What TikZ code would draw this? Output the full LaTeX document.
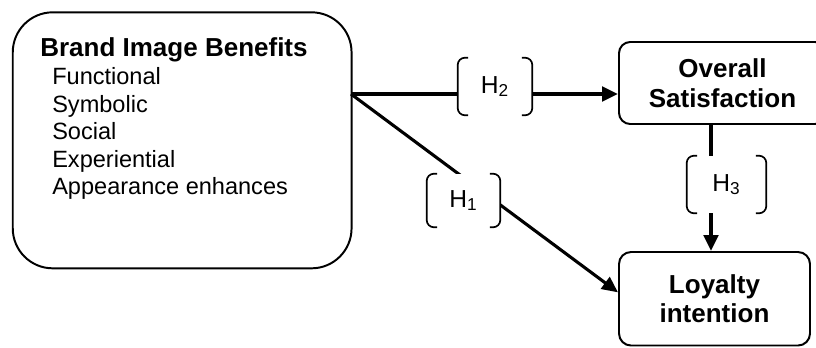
\documentclass[tikz,border=0pt]{standalone}
\usepackage{fontspec}
\setmainfont{Liberation Sans}
\usetikzlibrary{arrows.meta}

\tikzset{
  construct/.style={draw,line width=1.4pt,rounded corners=0.28cm,align=center,
    font=\bfseries\fontsize{18.5}{21}\selectfont},
  hyp/.style={fill=white,inner sep=0pt,font=\fontsize{17.5}{20}\selectfont},
  brk/.style={line width=1.2pt},
  link/.style={line width=2.8pt,-{Triangle[length=4mm,width=3.6mm]}}
}

% rounded brackets round a hypothesis label
\newcommand{\hypbrackets}[1]{%
  \draw[brk] ([xshift=2.6mm]#1.north west) -- ++(-0.8mm,0) arc[start angle=90,end angle=180,radius=1.8mm]
    -- ([yshift=1.8mm]#1.south west) arc[start angle=180,end angle=270,radius=1.8mm] -- ++(0.8mm,0);
  \draw[brk] ([xshift=-2.6mm]#1.north east) -- ++(0.8mm,0) arc[start angle=90,end angle=0,radius=1.8mm]
    -- ([yshift=1.8mm]#1.south east) arc[start angle=0,end angle=-90,radius=1.8mm] -- ++(-0.8mm,0);
}

\begin{document}
\begin{tikzpicture}
  \useasboundingbox (0,0) rectangle (20.4,8.675);
  % constructs
  \node[draw,line width=1.4pt,rounded corners=1cm,minimum width=8.47cm,minimum height=6.4cm] (bib) at (4.554,5.167) {};
  \node[anchor=north west,inner sep=0pt,align=left,font=\fontsize{16.75}{19.5}\selectfont] (bibtext) at (1.0,7.75)
    {{\bfseries\fontsize{18.5}{19.5}\selectfont Brand Image Benefits}\\[1pt]
     \hspace*{3mm}Functional\\
     \hspace*{3mm}Symbolic\\
     \hspace*{3mm}Social\\
     \hspace*{3mm}Experiential\\
     \hspace*{3mm}Appearance enhances};
  \node[construct,minimum width=5.175cm,minimum height=2.05cm] (sat) at (18.0625,6.6) {Overall\\Satisfaction};
  \node[construct,rounded corners=0.3cm,minimum width=4.775cm,minimum height=2.3375cm] (loy) at (17.8625,1.206) {Loyalty\\intention};

  \coordinate (br) at (8.775,6.325);
  \coordinate (v) at (17.775,0);

  % paths
  \draw[link] (br) -- (br -| sat.west);
  \draw[link,line width=2.2pt] (br) -- ([yshift=1.6mm]loy.west);
  \draw[link] (sat.south -| v) -- (loy.north -| v);

  % hypotheses
  \node[hyp,minimum width=1.85cm,minimum height=1.425cm] (h2) at (12.375,6.5125) {H\textsubscript{2}};
  \node[hyp,minimum width=1.825cm,minimum height=1.325cm] (h1) at (11.5875,3.6625) {H\textsubscript{1}};
  \node[hyp,minimum width=1.975cm,minimum height=1.425cm] (h3) at (18.1625,4.0625) {H\textsubscript{3}};
  \hypbrackets{h2}
  \hypbrackets{h1}
  \hypbrackets{h3}
\end{tikzpicture}
\end{document}
